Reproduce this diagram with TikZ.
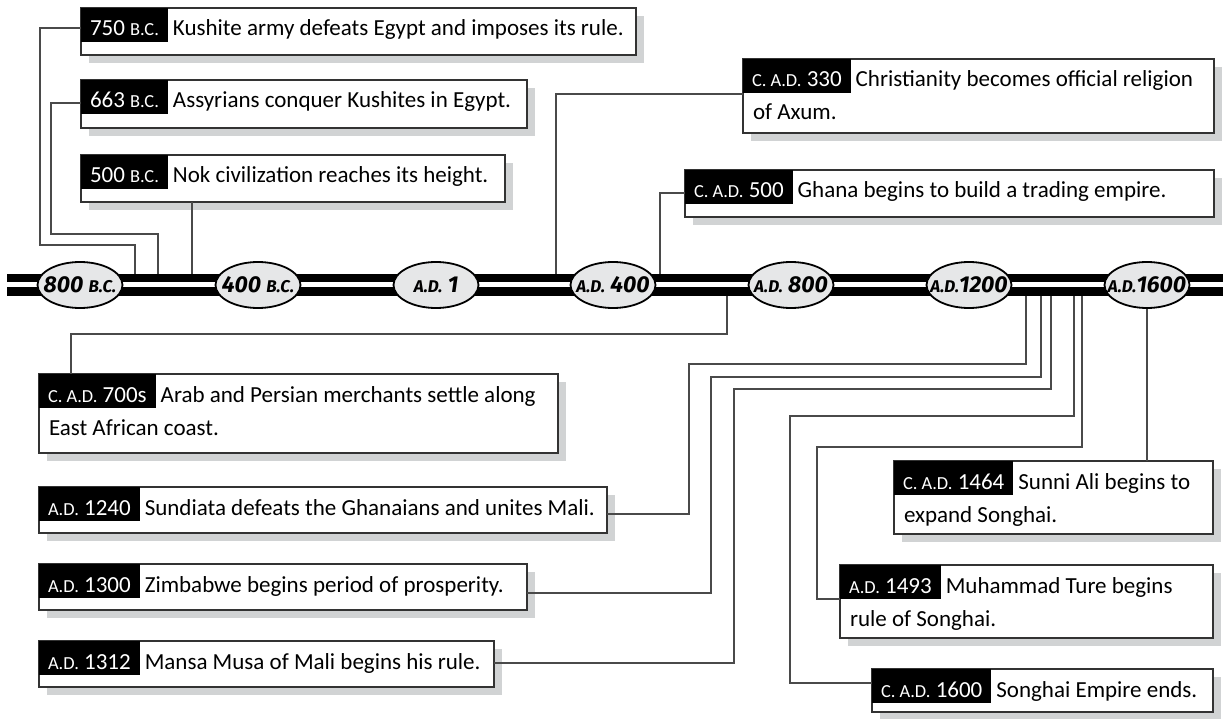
\documentclass[tikz,border=0pt]{standalone}
\usepackage{fontspec}
\setmainfont{Carlito}
\newfontfamily\erafont{Fira Sans}
\usetikzlibrary{shapes.geometric}

\definecolor{shadowgray}{HTML}{D1D3D4}
\definecolor{ovalgray}{HTML}{E6E7E8}
\definecolor{linegray}{HTML}{4A4A4A}
\definecolor{framegray}{HTML}{333333}

% small capitals for era abbreviations
\newcommand{\sm}[1]{{\fontsize{18.4}{18.4}\selectfont #1}}
\newcommand{\smb}[1]{{\fontsize{17}{17}\selectfont #1}}
\newcommand{\evfont}{\fontsize{23}{33}\selectfont}

\tikzset{
  evframe/.style={draw=framegray, line width=1.5pt, fill=white, inner sep=0pt, outer sep=0pt, rectangle},
  datebox/.style={fill=black, text=white, inner xsep=9pt, inner ysep=0pt, text height=28pt, text depth=6pt, outer sep=0pt, font=\evfont},
  evtext/.style={inner sep=0pt, outer sep=0pt, font=\evfont, text=black},
  era/.style={ellipse, draw=black, line width=1.8pt, fill=ovalgray, minimum width=85pt, minimum height=46pt, inner sep=0pt},
  eralabel/.style={inner sep=0pt, text=black, font=\erafont\bfseries\itshape\fontsize{23}{23}\selectfont},
  conn/.style={draw=linegray, line width=1.5pt},
}

% #1 name, #2 left, #3 top, #4 right, #5 bottom, #6 date, #7 first line, #8 second line
\newcommand{\eventbox}[8]{%
  \fill[shadowgray] (#2+8,#3+8) rectangle (#4+8,#5+8);
  \node[evframe, minimum width=#4-#2, minimum height=#5-#3, anchor=north west] (#1) at (#2,#3) {};
  \node[datebox, anchor=north west] (#1d) at (#1.north west) {#6};
  \node[evtext, anchor=base west] (#1t) at ([xshift=5pt]#1d.base east) {#7};
  \if\relax\detokenize{#8}\relax\else
    \node[evtext, anchor=base west] (#1u) at ([xshift=10pt, yshift=-33pt]#1d.base west) {#8};
  \fi
}

\begin{document}
\begin{tikzpicture}[x=1pt, y=-1pt]
\useasboundingbox (0,0) rectangle (1223,719);
\fill[white] (0,0) rectangle (1223,719);

% timeline bar
\node[fill=black, minimum width=1216pt, minimum height=22pt, inner sep=0pt, outer sep=0pt, anchor=north west] (bar) at (7,274) {};
\fill[white] (7,282) rectangle (1223,287);

% era ovals
\node[era, label={[eralabel]center:800 \smb{B.C.}}] (e1) at (80,285) {};
\node[era, label={[eralabel]center:400 \smb{B.C.}}] (e2) at (258,285) {};
\node[era, label={[eralabel]center:\smb{A.D.} 1}] (e3) at (436,285) {};
\node[era, label={[eralabel]center:\smb{A.D.} 400}] (e4) at (613,285) {};
\node[era, label={[eralabel]center:\smb{A.D.} 800}] (e5) at (791,285) {};
\node[era, label={[eralabel]center:\smb{A.D.}1200}] (e6) at (969,285) {};
\node[era, label={[eralabel]center:\smb{A.D.}1600}] (e7) at (1147,285) {};

% events
\eventbox{b1}{81}{8}{636}{55}{750 \sm{B.C.}}{Kushite army defeats Egypt and imposes its rule.}{}
\eventbox{b2}{81}{80}{527}{128}{663 \sm{B.C.}}{Assyrians conquer Kushites in Egypt.}{}
\eventbox{b3}{81}{155}{505}{202}{500 \sm{B.C.}}{Nok civilization reaches its height.}{}
\eventbox{b4}{743}{59}{1214}{133}{\sm{C. A.D.} 330}{Christianity becomes official religion}{of Axum.}
\eventbox{b5}{685}{170}{1214}{217}{\sm{C. A.D.} 500}{Ghana begins to build a trading empire.}{}
\eventbox{b6}{39}{374}{558}{453}{\sm{C. A.D.} 700s}{Arab and Persian merchants settle along}{East African coast.}
\eventbox{b7}{39}{487}{607}{533}{\sm{A.D.} 1240}{Sundiata defeats the Ghanaians and unites Mali.}{}
\eventbox{b8}{39}{564}{527}{610}{\sm{A.D.} 1300}{Zimbabwe begins period of prosperity.}{}
\eventbox{b9}{39}{641}{494}{687}{\sm{A.D.} 1312}{Mansa Musa of Mali begins his rule.}{}
\eventbox{b10}{894}{461}{1213}{534}{\sm{C. A.D.} 1464}{Sunni Ali begins to}{expand Songhai.}
\eventbox{b11}{840}{565}{1213}{638}{\sm{A.D.} 1493}{Muhammad Ture begins}{rule of Songhai.}
\eventbox{b12}{872}{669}{1213}{712}{\sm{C. A.D.} 1600}{Songhai Empire ends.}{}

% connectors above the bar
\draw[conn] (b1.west |- 0,28) -- (40,28) -- (40,245) -- (135,245) -- (135,0 |- bar.north);
\draw[conn] (b2.west |- 0,103) -- (51,103) -- (51,234) -- (158,234) -- (158,0 |- bar.north);
\draw[conn] (192,0 |- b3.south) -- (192,0 |- bar.north);
\draw[conn] (b4.west |- 0,94) -- (556,94) -- (556,0 |- bar.north);
\draw[conn] (b5.west |- 0,193) -- (660,193) -- (660,0 |- bar.north);

% connectors below the bar
\draw[conn] (727,0 |- bar.south) -- (727,334) -- (71,334) -- (71,0 |- b6.north);
\draw[conn] (1026,0 |- bar.south) -- (1026,364) -- (689,364) -- (689,514) -- (b7.east |- 0,514);
\draw[conn] (1041,0 |- bar.south) -- (1041,377) -- (711,377) -- (711,593) -- (b8.east |- 0,593);
\draw[conn] (1051,0 |- bar.south) -- (1051,389) -- (734,389) -- (734,663) -- (b9.east |- 0,663);
\draw[conn] (e7.south) -- (e7.south |- b10.north);
\draw[conn] (1082,0 |- bar.south) -- (1082,447) -- (817,447) -- (817,599) -- (b11.west |- 0,599);
\draw[conn] (1074,0 |- bar.south) -- (1074,416) -- (790,416) -- (790,683) -- (b12.west |- 0,683);
\end{tikzpicture}
\end{document}
